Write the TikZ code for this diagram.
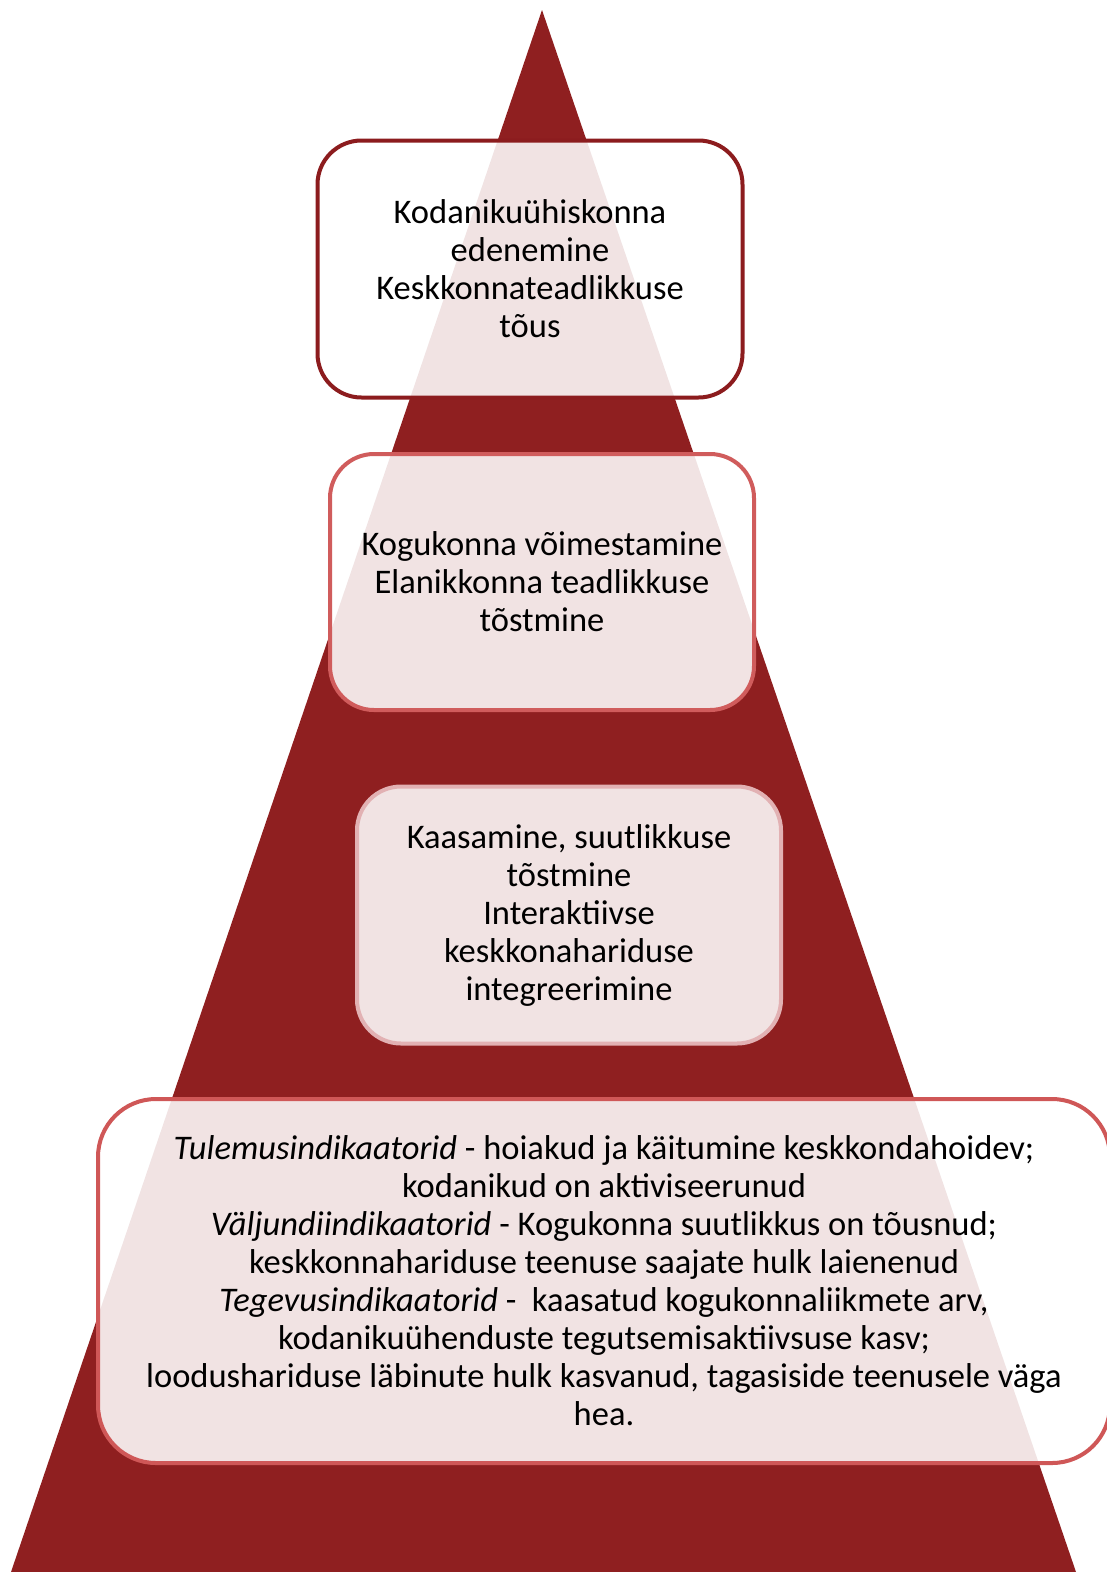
\documentclass[tikz,border=0pt]{standalone}
\usepackage{fontspec}
\setmainfont{Carlito}
\usepackage{xcolor}
\definecolor{pyramidred}{RGB}{143,31,32}
\definecolor{edgeone}{RGB}{140,28,30}
\definecolor{edgetwo}{RGB}{208,92,92}
\definecolor{edgethree}{RGB}{226,177,179}
\definecolor{edgefour}{RGB}{207,87,87}

\begin{document}
\begin{tikzpicture}[x=1pt,y=-1pt]
\tikzset{levelbox/.style={draw,line width=4pt,rounded corners=44pt,fill=white,fill opacity=0.88,text opacity=1,align=center,font=\fontsize{34.5}{38}\selectfont,inner sep=0pt}}
\tikzset{every node/.append style={text=black}}

\useasboundingbox (0,0) rectangle (1107,1572);

% pyramid
\fill[pyramidred] (542,10) -- (1076,1572) -- (11,1572) -- cycle;

\node[levelbox,draw=edgeone,minimum width=425pt,minimum height=257pt] (goal) at (530,269)
  {Kodanikuühiskonna\\edenemine\\Keskkonnateadlikkuse\\tõus};
\node[levelbox,draw=edgetwo,minimum width=424pt,minimum height=256pt] (empower) at (542,582)
  {Kogukonna võimestamine\\Elanikkonna teadlikkuse\\tõstmine};
\node[levelbox,draw=edgethree,minimum width=424pt,minimum height=257pt] (involve) at (569,915)
  {Kaasamine, suutlikkuse\\tõstmine\\Interaktiivse\\keskkonahariduse\\integreerimine};
\node[levelbox,draw=edgefour,rounded corners=58pt,minimum width=1012pt,minimum height=364pt] (indicators) at (604,1281)
  {\textit{Tulemusindikaatorid} - hoiakud ja käitumine keskkondahoidev;\\
   kodanikud on aktiviseerunud\\
   \textit{Väljundiindikaatorid} - Kogukonna suutlikkus on tõusnud;\\
   keskkonnahariduse teenuse saajate hulk laienenud\\
   \textit{Tegevusindikaatorid} -\ \ kaasatud kogukonnaliikmete arv,\\
   kodanikuühenduste tegutsemisaktiivsuse kasv;\\
   loodushariduse läbinute hulk kasvanud, tagasiside teenusele väga\\
   hea.};

\end{tikzpicture}
\end{document}
